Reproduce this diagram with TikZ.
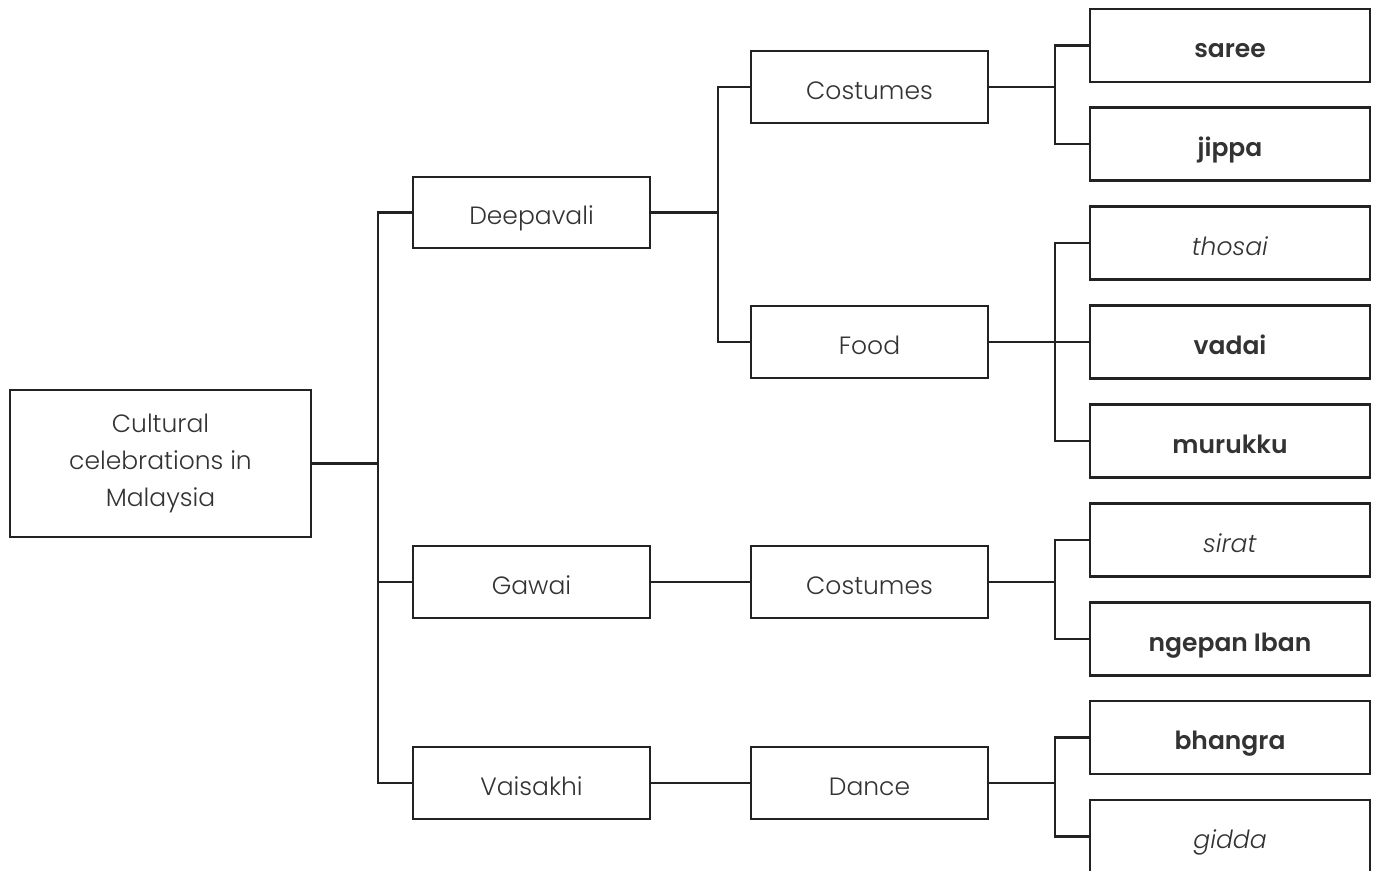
\documentclass[tikz,border=0pt]{standalone}
\usepackage{fontspec}
\setmainfont{Poppins}[UprightFont=* Light, ItalicFont=* Light Italic, BoldFont=* SemiBold]
\definecolor{txt}{HTML}{333333}
\definecolor{ln}{HTML}{222222}
\begin{document}
\begin{tikzpicture}[x=1pt,y=-1pt,
  box/.style={draw=ln, line width=2.3pt, inner sep=0pt, text=txt, font=\fontsize{25}{37}\selectfont, align=center},
  lone/.style={box, minimum width=237pt, minimum height=72pt, text height=24pt, text depth=0pt},
  leaf/.style={box, minimum width=280pt, minimum height=73pt, text height=24pt, text depth=0pt},
  conn/.style={draw=ln, line width=2.3pt, line join=miter}]
\clip (0,0) rectangle (1373,870);
\fill[white] (0,0) rectangle (1373,870);
\node[box, minimum width=301pt, minimum height=147pt] (root) at (160.5,463.5) {Cultural\\celebrations in\\Malaysia};
\node[lone, minimum height=71pt] (dee) at (531.5,212.5) {Deepavali};
\node[lone] (gaw) at (531.5,582) {Gawai};
\node[lone] (vai) at (531.5,783) {Vaisakhi};
\node[lone] (cos1) at (869.5,87) {Costumes};
\node[lone] (food) at (869.5,342) {Food};
\node[lone] (cos2) at (869.5,582) {Costumes};
\node[lone] (dance) at (869.5,783) {Dance};
\node[leaf] (saree) at (1230,45.5) {\textbf{saree}};
\node[leaf] (jippa) at (1230,144) {\textbf{jippa}};
\node[leaf] (thosai) at (1230,243) {\textit{thosai}};
\node[leaf] (vadai) at (1230,342) {\textbf{vadai}};
\node[leaf] (murukku) at (1230,441) {\textbf{murukku}};
\node[leaf] (sirat) at (1230,540) {\textit{sirat}};
\node[leaf] (ngepan) at (1230,639) {\textbf{ngepan Iban}};
\node[leaf] (bhangra) at (1230,737.5) {\textbf{bhangra}};
\node[leaf] (gidda) at (1230,836.5) {\textit{gidda}};
\coordinate (t1) at (378,463.5);
\coordinate (t2) at (718,212.5);
\coordinate (t3) at (1055,87);
\coordinate (t4) at (1055,342);
\coordinate (t5) at (1055,582);
\coordinate (t6) at (1055,783);
\draw[conn] (root.east) -- (t1);
\draw[conn] (dee.west) -| (t1);
\draw[conn] (vai.west) -| (t1);
\draw[conn] (gaw.west) -- (gaw.west -| t1);
\draw[conn] (dee.east) -- (t2);
\draw[conn] (cos1.west) -| (t2);
\draw[conn] (food.west) -| (t2);
\draw[conn] (gaw.east) -- (cos2.west);
\draw[conn] (vai.east) -- (dance.west);
\draw[conn] (cos1.east) -- (t3);
\draw[conn] (saree.west) -| (t3);
\draw[conn] (jippa.west) -| (t3);
\draw[conn] (food.east) -- (t4);
\draw[conn] (thosai.west) -| (t4);
\draw[conn] (murukku.west) -| (t4);
\draw[conn] (vadai.west) -- (t4);
\draw[conn] (cos2.east) -- (t5);
\draw[conn] (sirat.west) -| (t5);
\draw[conn] (ngepan.west) -| (t5);
\draw[conn] (dance.east) -- (t6);
\draw[conn] (bhangra.west) -| (t6);
\draw[conn] (gidda.west) -| (t6);
\end{tikzpicture}
\end{document}
